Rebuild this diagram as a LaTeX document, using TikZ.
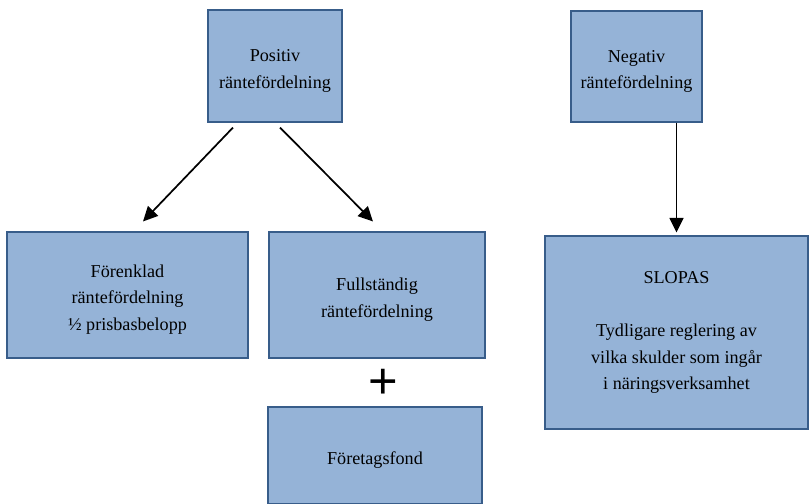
\documentclass[tikz,border=0pt]{standalone}
\usepackage{fontspec}
\setmainfont{Liberation Serif}
\newfontfamily\plusfont{Liberation Sans}
\usetikzlibrary{arrows.meta,calc,positioning}
\definecolor{boxfill}{HTML}{95B3D7}
\definecolor{boxline}{HTML}{385D8A}
\newcommand{\topgap}{\rule{0pt}{1.2em}}

\begin{document}
\begin{tikzpicture}
[x=0.75pt,y=-0.75pt,
box/.style ={rectangle, draw=boxline, fill=boxfill, line width=0.8pt,
align=center, inner sep=0pt,
font=\rmfamily\fontsize{13.6}{20}\selectfont},
line/.style ={draw, line width=1.3pt, -{Triangle[width=10.5pt,length=11pt]}}]
\useasboundingbox (0,0) rectangle (812,503);
% left branch
\node [box, minimum width=100.5pt, minimum height=84pt]   (pos)  at (275, 66)    {\topgap Positiv\\räntefördelning};
\node [box, minimum width=180.75pt, minimum height=94.5pt] (fen) at (127.5, 295) {\topgap Förenklad\\räntefördelning\\½ prisbasbelopp};
\node [box, minimum width=162pt, minimum height=94.5pt]   (ful)  at (377, 295)   {\topgap Fullständig\\räntefördelning};
\node [font=\plusfont\fontsize{38}{38}\selectfont]         (plus) at (383, 384)   {+};
\node [box, minimum width=160.5pt, minimum height=72.75pt] (fond) at (375, 455.5) {\topgap Företagsfond};
% right branch
\node [box, minimum width=98.25pt, minimum height=83.25pt]   (neg) at (636.5, 66.5) {\topgap Negativ\\räntefördelning};
\node [box, minimum width=197.25pt, minimum height=144.75pt] (slo) at (676.5, 332.5) {SLOPAS\\[20pt]Tydligare reglering av\\vilka skulder som ingår\\i näringsverksamhet};

\draw [line] ($(pos.south)+(-42,5)$) to ($(fen.north)+(15.5,-10)$);
\draw [line] ($(pos.south)+(5,5)$) to ($(ful.north)+(-4,-10)$);
\draw [line, shorten >=2.25pt] (slo.north |- neg.south) to (slo.north);
\end{tikzpicture}
\end{document}
